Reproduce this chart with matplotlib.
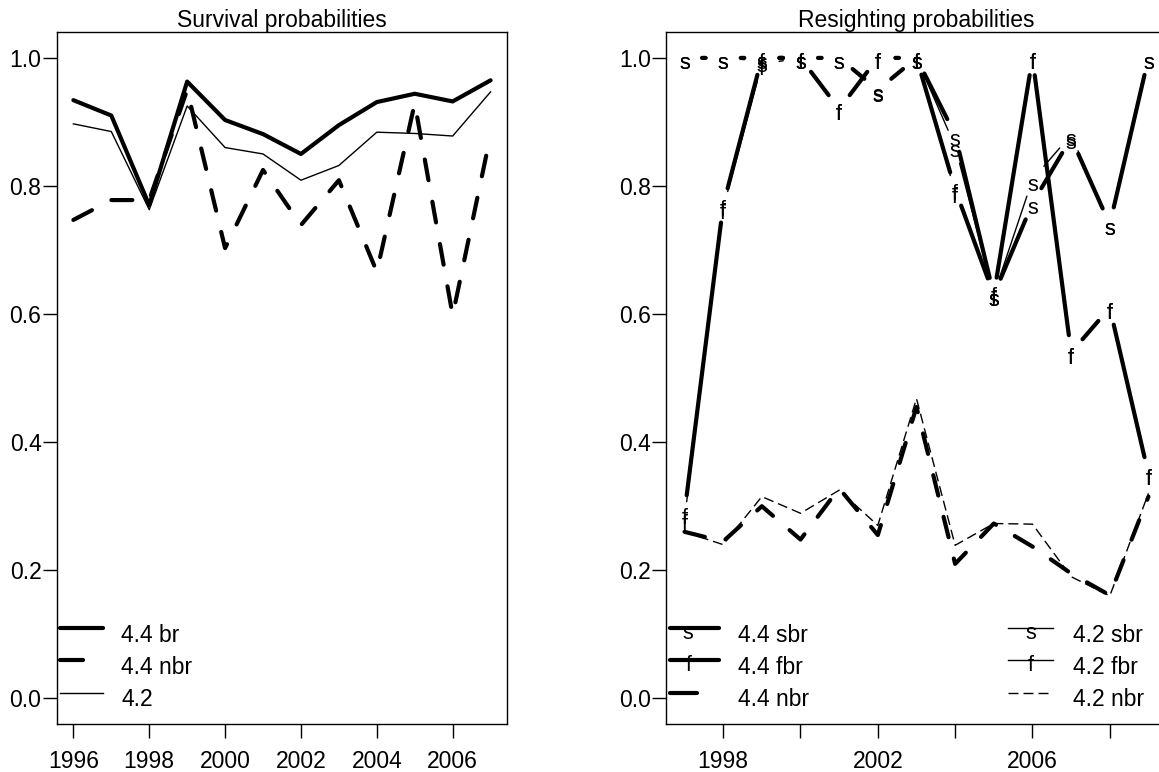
import numpy as np
import matplotlib
matplotlib.use("Agg")
import matplotlib.pyplot as plt
from matplotlib.transforms import offset_copy

plt.rcParams['font.family'] = ['Liberation Sans', 'DejaVu Sans']
plt.rcParams['lines.scale_dashes'] = False

# ---- data ----
years_surv = [1996, 1997, 1998, 1999, 2000, 2001, 2002, 2003, 2004, 2005, 2006, 2007]
surv_44_br = [0.934, 0.910, 0.770, 0.963, 0.903, 0.881, 0.850, 0.895, 0.931, 0.944, 0.932, 0.965]
surv_44_nbr = [0.747, 0.778, 0.778, 0.950, 0.703, 0.825, 0.739, 0.809, 0.666, 0.929, 0.598, 0.880]
surv_42 = [0.897, 0.885, 0.763, 0.925, 0.860, 0.850, 0.809, 0.832, 0.884, 0.882, 0.878, 0.947]

years_res = [1997, 1998, 1999, 2000, 2001, 2002, 2003, 2004, 2005, 2006, 2007, 2008, 2009]
res_44_sbr = [1.0, 1.0, 1.0, 1.0, 1.0, 0.95, 1.0, 0.88, 0.63, 0.773, 0.875, 0.74, 1.0]
res_42_sbr = [1.0, 1.0, 0.995, 1.0, 1.0, 0.948, 1.0, 0.862, 0.63, 0.81, 0.88, 0.74, 1.0]
res_44_fbr = [0.29, 0.77, 1.0, 1.0, 0.92, 1.0, 1.0, 0.795, 0.63, 1.0, 0.54, 0.61, 0.35]
res_42_fbr = [0.28, 0.765, 0.99, 1.0, 0.92, 1.0, 1.0, 0.79, 0.635, 1.0, 0.54, 0.61, 0.35]
res_44_nbr = [0.26, 0.245, 0.30, 0.248, 0.328, 0.255, 0.455, 0.21, 0.273, 0.237, 0.195, 0.161, 0.315]
res_42_nbr = [0.26, 0.24, 0.315, 0.289, 0.325, 0.27, 0.468, 0.239, 0.273, 0.272, 0.19, 0.16, 0.32]

yticks = [0.0, 0.2, 0.4, 0.6, 0.8, 1.0]
ytick_labels = ["0.0", "0.2", "0.4", "0.6", "0.8", "1.0"]
xticks_surv = [1996, 1998, 2000, 2002, 2004, 2006]
xticks_res = [1998, 2000, 2002, 2004, 2006, 2008]
xtick_labels_res = ["1998", "", "2002", "", "2006", ""]

FS = 16.5
MFS = 15.5  # size of the s / f point letters
THICK = 3.0
THIN = 1.0
THICK_DASH = (15.1, 15.8)
THIN_DASH = (7.2, 3.6)
GAP = 17.5  # px, R type="b" gap round each point

fig = plt.figure(figsize=(11.59, 7.72), dpi=100)
ax1 = fig.add_axes([0.0489, 0.0622, 0.3888, 0.8960])
ax2 = fig.add_axes([0.5746, 0.0622, 0.4323, 0.8960])


def style_axes(ax, xlim, xticks, xlabels, title):
    ax.set_xlim(*xlim)
    ax.set_ylim(-0.04, 1.04)
    ax.set_xticks(xticks)
    ax.set_xticklabels(xlabels)
    ax.set_yticks(yticks)
    ax.set_yticklabels(ytick_labels)
    ax.tick_params(axis='both', direction='out', length=10, width=1.0,
                   labelsize=FS, colors='black')
    ax.tick_params(axis='x', pad=9)
    ax.tick_params(axis='y', pad=1)
    for s in ax.spines.values():
        s.set_linewidth(1.0)
    ax.set_title(title, fontsize=FS, pad=1)


def gapped(ax, x, y, **kw):
    # lines between points with a gap round each point, like R's type="b"
    pts = ax.transData.transform(np.column_stack([x, y]))
    segs = []
    for p, q in zip(pts[:-1], pts[1:]):
        d = q - p
        L = np.hypot(*d)
        if L <= 2 * GAP:
            continue
        u = d / L
        segs += [p + u * GAP, q - u * GAP, [np.nan, np.nan]]
    data = ax.transData.inverted().transform(np.array(segs))
    ax.plot(data[:, 0], data[:, 1], color='black', solid_capstyle='round',
            solid_joinstyle='round', **kw)


def letters(ax, x, y, ch, trans=None):
    tr = offset_copy(trans or ax.transData, fig=fig, x=0, y=-11, units='dots')
    for xi, yi in zip(x, y):
        ax.text(xi, yi, ch, transform=tr, ha='center', va='baseline',
                fontsize=MFS, color='black', clip_on=False)


# ---- left: survival ----
style_axes(ax1, (1995.56, 2007.44), xticks_surv, [str(v) for v in xticks_surv],
           "Survival probabilities")
ax1.plot(years_surv, surv_44_br, color='black', lw=THICK,
         solid_capstyle='round', solid_joinstyle='round')
ax1.plot(years_surv, surv_44_nbr, color='black', lw=THICK, dashes=THICK_DASH,
         dash_capstyle='round', dash_joinstyle='round')
ax1.plot(years_surv, surv_42, color='black', lw=THIN)

ta = ax1.transAxes
ax1.plot([0.0073, 0.1027], [0.1384, 0.1384], transform=ta, color='black', lw=THICK,
         solid_capstyle='round')
ax1.plot([0.0073, 0.0585], [0.0921, 0.0921], transform=ta, color='black', lw=THICK,
         solid_capstyle='round')
ax1.plot([0.0073, 0.1027], [0.0455, 0.0455], transform=ta, color='black', lw=THIN)
for yb, lab in zip([0.119, 0.0723, 0.026], ["4.4 br", "4.4 nbr", "4.2"]):
    ax1.text(0.1428, yb, lab, transform=ta, fontsize=FS, va='baseline', ha='left')

# ---- right: resighting ----
style_axes(ax2, (1996.52, 2009.48), xticks_res, xtick_labels_res,
           "Resighting probabilities")
ax2.plot(years_res, res_44_nbr, color='black', lw=THICK, dashes=THICK_DASH,
         dash_capstyle='round', dash_joinstyle='round')
ax2.plot(years_res, res_42_nbr, color='black', lw=THIN, dashes=THIN_DASH)
gapped(ax2, years_res, res_42_sbr, lw=THIN)
gapped(ax2, years_res, res_42_fbr, lw=THIN)
gapped(ax2, years_res, res_44_sbr, lw=THICK)
gapped(ax2, years_res, res_44_fbr, lw=THICK)
letters(ax2, years_res, res_44_sbr, 's')
letters(ax2, years_res, res_42_sbr, 's')
letters(ax2, years_res, res_44_fbr, 'f')
letters(ax2, years_res, res_42_fbr, 'f')

tb = ax2.transAxes
ly = [0.1384, 0.0921, 0.0455]
lb = [0.119, 0.0723, 0.026]
c1 = [0.008, 0.1058]
c2 = [0.6832, 0.7718]
ax2.plot(c1, [ly[0]] * 2, transform=tb, color='black', lw=THICK, solid_capstyle='round')
ax2.plot(c1, [ly[1]] * 2, transform=tb, color='black', lw=THICK, solid_capstyle='round')
ax2.plot([0.008, 0.062], [ly[2]] * 2, transform=tb, color='black', lw=THICK,
         solid_capstyle='round')
ax2.plot(c2, [ly[0]] * 2, transform=tb, color='black', lw=THIN)
ax2.plot(c2, [ly[1]] * 2, transform=tb, color='black', lw=THIN)
ax2.plot(c2, [ly[2]] * 2, transform=tb, color='black', lw=THIN, dashes=THIN_DASH)
letters(ax2, [0.0445], [ly[0]], 's', trans=tb)
letters(ax2, [0.0445], [ly[1]], 'f', trans=tb)
letters(ax2, [0.7275], [ly[0]], 's', trans=tb)
letters(ax2, [0.7275], [ly[1]], 'f', trans=tb)
for yb, lab in zip(lb, ["4.4 sbr", "4.4 fbr", "4.4 nbr"]):
    ax2.text(0.1443, yb, lab, transform=tb, fontsize=FS, va='baseline', ha='left')
for yb, lab in zip(lb, ["4.2 sbr", "4.2 fbr", "4.2 nbr"]):
    ax2.text(0.813, yb, lab, transform=tb, fontsize=FS, va='baseline', ha='left')

fig.savefig("out.png", dpi=100)
